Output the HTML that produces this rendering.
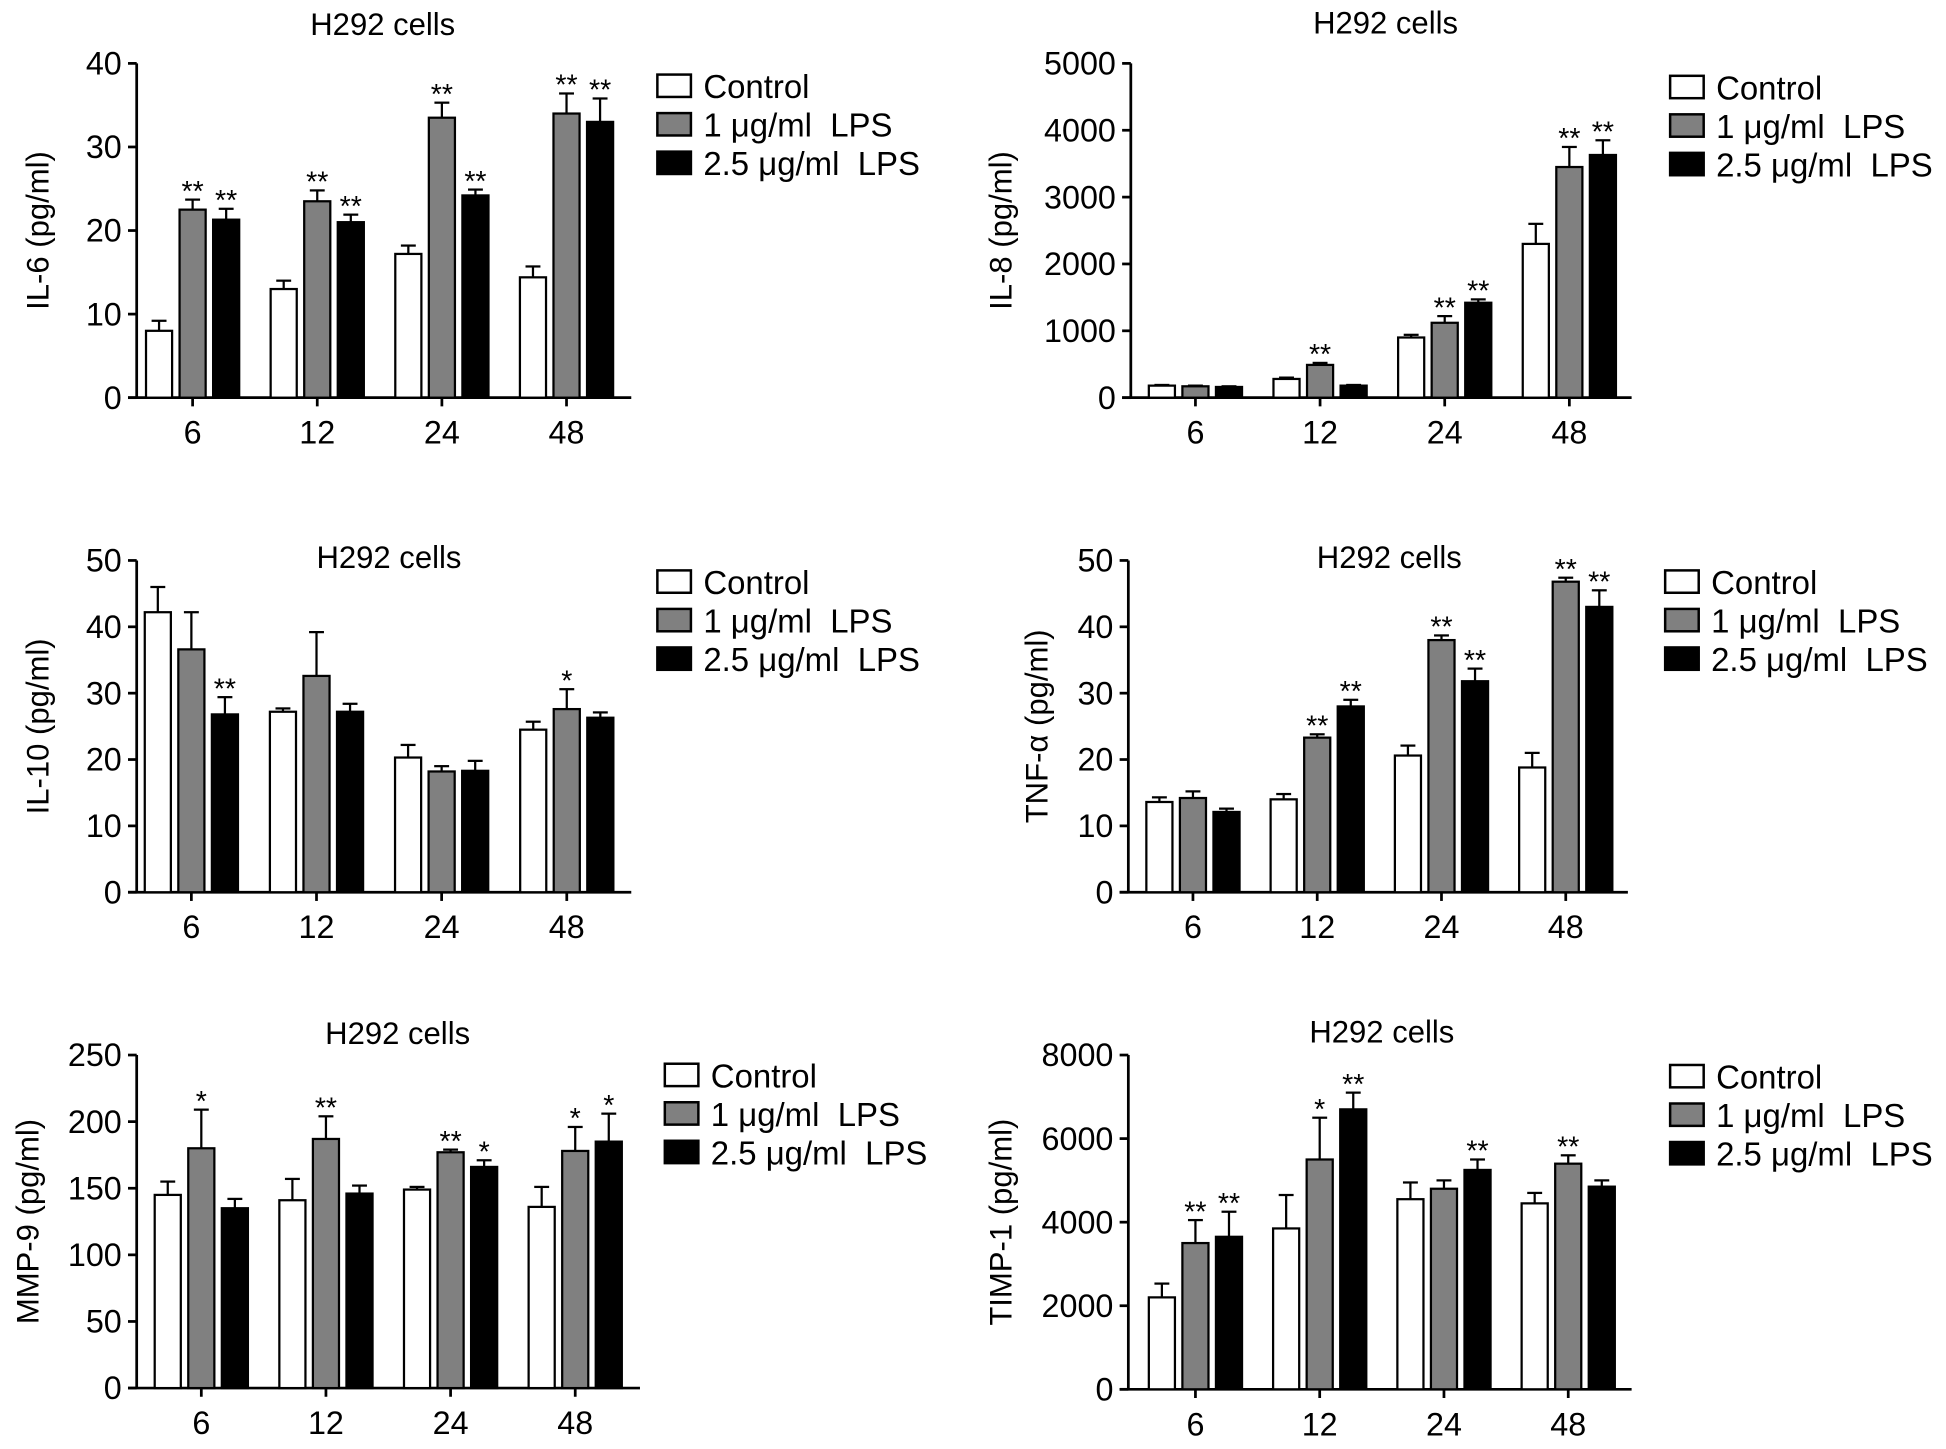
<!DOCTYPE html>
<html><head><meta charset="utf-8"><style>
html,body{margin:0;padding:0;background:#fff;}
svg text{font-family:"Liberation Sans",sans-serif;fill:#000;white-space:pre;}
</style></head><body>
<svg id="fig" width="1946" height="1444" viewBox="0 0 1566 1162" xmlns="http://www.w3.org/2000/svg"></svg>
<script>
const categories = ["6","12","24","48"];
const seriesNames = ["Control","1 \u03bcg/ml  LPS","2.5 \u03bcg/ml  LPS"];
// IL-6
const il6Control = [8,13,17.2,14.4], il6ControlErr = [1.2,1,1,1.3];
const il6Lps1 = [22.5,23.5,33.5,34], il6Lps1Err = [1.2,1.3,1.8,2.4];
const il6Lps25 = [21.3,21,24.2,33], il6Lps25Err = [1.3,0.9,0.7,2.8];
const il6Stars1 = ["**","**","**","**"], il6Stars25 = ["**","**","**","**"];
const il6Ticks = [0,10,20,30,40];
// IL-8
const il8Control = [180,280,900,2300], il8ControlErr = [10,20,40,300];
const il8Lps1 = [170,490,1120,3450], il8Lps1Err = [10,30,100,300];
const il8Lps25 = [160,180,1420,3630], il8Lps25Err = [10,10,50,220];
const il8Stars1 = ["","**","**","**"], il8Stars25 = ["","","**","**"];
const il8Ticks = [0,1000,2000,3000,4000,5000];
// IL-10
const il10Control = [42.2,27.2,20.3,24.5], il10ControlErr = [3.8,0.5,1.9,1.2];
const il10Lps1 = [36.6,32.6,18.2,27.6], il10Lps1Err = [5.6,6.6,0.8,3];
const il10Lps25 = [26.8,27.2,18.3,26.3], il10Lps25Err = [2.6,1.2,1.5,0.8];
const il10Stars1 = ["","","","*"], il10Stars25 = ["**","","",""];
const il10Ticks = [0,10,20,30,40,50];
// TNF-a
const tnfControl = [13.6,14,20.6,18.8], tnfControlErr = [0.7,0.8,1.5,2.2];
const tnfLps1 = [14.2,23.3,38,46.8], tnfLps1Err = [1,0.5,0.7,0.6];
const tnfLps25 = [12.1,28,31.8,43], tnfLps25Err = [0.5,1,1.9,2.5];
const tnfStars1 = ["","**","**","**"], tnfStars25 = ["","**","**","**"];
const tnfTicks = [0,10,20,30,40,50];
// MMP-9
const mmpControl = [145,141,149,136], mmpControlErr = [10,16,2,15];
const mmpLps1 = [180,187,177,178], mmpLps1Err = [29,17,2,18];
const mmpLps25 = [135,146,166,185], mmpLps25Err = [7,6,5,21];
const mmpStars1 = ["*","**","**","*"], mmpStars25 = ["","","*","*"];
const mmpTicks = [0,50,100,150,200,250];
// TIMP-1
const timpControl = [2200,3850,4550,4450], timpControlErr = [330,800,400,250];
const timpLps1 = [3500,5500,4800,5400], timpLps1Err = [550,1000,200,200];
const timpLps25 = [3650,6700,5250,4850], timpLps25Err = [600,400,250,150];
const timpStars1 = ["**","*","","**"], timpStars25 = ["**","**","**",""];
const timpTicks = [0,2000,4000,6000,8000];

const NS="http://www.w3.org/2000/svg";
const svg=document.getElementById('fig');
function mk(tag,attrs,parent){const e=document.createElementNS(NS,tag);for(const k in attrs)e.setAttribute(k,attrs[k]);(parent||svg).appendChild(e);return e;}
function txt(s,attrs,parent){const t=mk('text',attrs,parent);t.textContent=s;return t;}

function panel(p){
  const g=mk('g',{});
  
  
  const max=p.ticks[p.ticks.length-1];
  const y=v=>p.y0-(v/max)*(p.y0-p.yTop);
  const x=i=>p.cx0+i*p.step;
  const t=txt('H292 cells',{x:p.titleX,y:p.titleY,'font-size':25,'text-anchor':'middle'},g);
  
  
  const ax=mk('line',{x1:p.ax,y1:p.yTop,x2:p.ax,y2:p.y0,stroke:'#000','stroke-width':2.2},g);
  
  
  const xa=mk('line',{x1:p.ax-7,y1:p.y0,x2:p.xEnd,y2:p.y0,stroke:'#000','stroke-width':2.2},g);
  
  
  p.ticks.forEach(v=>{
    mk('line',{x1:p.ax-7,y1:y(v),x2:p.ax,y2:y(v),stroke:'#000','stroke-width':2.2},g);
    const tl=txt(String(v),{x:p.ax-12,y:y(v)+9,'font-size':26,'text-anchor':'end'},g);
    
    
  });
  categories.forEach((c,i)=>{
    mk('line',{x1:x(i),y1:p.y0,x2:x(i),y2:p.y0+7,stroke:'#000','stroke-width':2.2},g);
    const tl=txt(c,{x:x(i),y:p.y0+37,'font-size':26,'text-anchor':'middle'},g);
    
    
  });
  const yl=txt(p.ylabel,{x:0,y:0,'font-size':25,'text-anchor':'middle',transform:`translate(${p.labelX},${(p.yTop+p.y0)/2}) rotate(-90)`},g);
  
  
  const fills=['#fff','#808080','#000'];
  const offs=[-27,0,27];
  const bw=21;
  p.series.forEach((s,si)=>{
    s.vals.forEach((v,i)=>{
      const cx=x(i)+offs[si];
      const top=y(v);
      const et=y(v+s.err[i]);
      mk('line',{x1:cx,y1:top,x2:cx,y2:et,stroke:'#000','stroke-width':1.8},g);
      mk('line',{x1:cx-6,y1:et,x2:cx+6,y2:et,stroke:'#000','stroke-width':1.8},g);
      const r=mk('rect',{x:cx-bw/2,y:top,width:bw,height:p.y0-top,fill:fills[si],stroke:'#000','stroke-width':1.8},g);
      
      
      if(s.stars && s.stars[i]){
        const st=txt(s.stars[i],{x:cx,y:et+1,'font-size':23,'text-anchor':'middle'},g);
        
        
      }
    });
  });
  seriesNames.forEach((n,si)=>{
    const ly=p.legY+si*31;
    const lb=mk('rect',{x:p.legX,y:ly-9,width:27,height:18,fill:fills[si],stroke:'#000','stroke-width':2},g);
    
    
    const lt=txt(n,{x:p.legX+37,y:ly+10,'font-size':26.5},g);
    
    
  });
}
function ser(v,e,s){return {vals:v,err:e,stars:s};}
panel({name:'il-6',ylabel:'IL-6 (pg/ml)',ticks:il6Ticks,ax:110,labelX:39,yTop:51,y0:320,xEnd:508,cx0:155,step:100.3,titleX:308,titleY:28,legX:529,legY:69,
  series:[ser(il6Control,il6ControlErr,null),ser(il6Lps1,il6Lps1Err,il6Stars1),ser(il6Lps25,il6Lps25Err,il6Stars25)]});
panel({name:'il-8',ylabel:'IL-8 (pg/ml)',ticks:il8Ticks,ax:910,labelX:814,yTop:51,y0:320,xEnd:1313,cx0:962,step:100.3,titleX:1115,titleY:27,legX:1344,legY:70,
  series:[ser(il8Control,il8ControlErr,null),ser(il8Lps1,il8Lps1Err,il8Stars1),ser(il8Lps25,il8Lps25Err,il8Stars25)]});
panel({name:'il-10',ylabel:'IL-10 (pg/ml)',ticks:il10Ticks,ax:110,labelX:39,yTop:451,y0:718,xEnd:508,cx0:154,step:100.7,titleX:313,titleY:457,legX:529,legY:468,
  series:[ser(il10Control,il10ControlErr,null),ser(il10Lps1,il10Lps1Err,il10Stars1),ser(il10Lps25,il10Lps25Err,il10Stars25)]});
panel({name:'tnf-alpha',ylabel:'TNF-\u03b1 (pg/ml)',ticks:tnfTicks,ax:908,labelX:843,yTop:451,y0:718,xEnd:1310,cx0:960,step:100,titleX:1118,titleY:457,legX:1340,legY:468,
  series:[ser(tnfControl,tnfControlErr,null),ser(tnfLps1,tnfLps1Err,tnfStars1),ser(tnfLps25,tnfLps25Err,tnfStars25)]});
panel({name:'mmp-9',ylabel:'MMP-9 (pg/ml)',ticks:mmpTicks,ax:110,labelX:31,yTop:849,y0:1117,xEnd:515,cx0:162,step:100.3,titleX:320,titleY:840,legX:535,legY:865,
  series:[ser(mmpControl,mmpControlErr,null),ser(mmpLps1,mmpLps1Err,mmpStars1),ser(mmpLps25,mmpLps25Err,mmpStars25)]});
panel({name:'timp-1',ylabel:'TIMP-1 (pg/ml)',ticks:timpTicks,ax:908,labelX:814,yTop:849,y0:1118,xEnd:1313,cx0:962,step:100,titleX:1112,titleY:839,legX:1344,legY:866,
  series:[ser(timpControl,timpControlErr,null),ser(timpLps1,timpLps1Err,timpStars1),ser(timpLps25,timpLps25Err,timpStars25)]});
</script>
</body></html>
